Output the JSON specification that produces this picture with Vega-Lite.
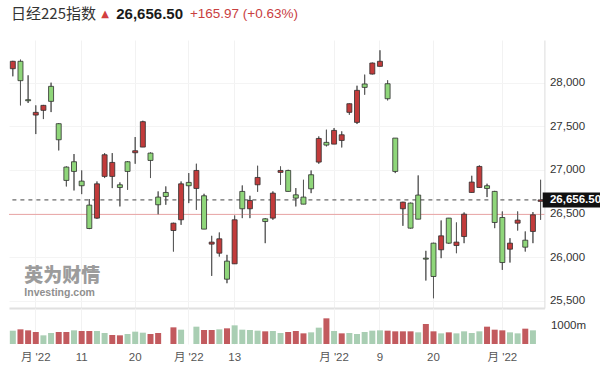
{
  "$schema": "https://vega.github.io/schema/vega-lite/v6.json",
  "padding": {"left": 8, "top": 4, "right": 0, "bottom": 0},
  "background": "white",
  "config": {"view": {"stroke": null}, "font": "Liberation Sans"},
  "datasets": {
    "k": [
      {"d": "2022-03-29", "o": 28160, "h": 28250, "l": 28073, "c": 28245, "v": 700, "vc": "g"},
      {"d": "2022-03-30", "o": 28245, "h": 28264, "l": 27740, "c": 28023, "v": 772, "vc": "r"},
      {"d": "2022-03-31", "o": 27805, "h": 28084, "l": 27767, "c": 27793, "v": 719, "vc": "r"},
      {"d": "2022-04-01", "o": 27629, "h": 27740, "l": 27411, "c": 27660, "v": 632, "vc": "r"},
      {"d": "2022-04-04", "o": 27683, "h": 27745, "l": 27583, "c": 27740, "v": 456, "vc": "g"},
      {"d": "2022-04-05", "o": 27958, "h": 28000, "l": 27663, "c": 27786, "v": 579, "vc": "g"},
      {"d": "2022-04-06", "o": 27530, "h": 27535, "l": 27224, "c": 27346, "v": 632, "vc": "r"},
      {"d": "2022-04-07", "o": 27033, "h": 27040, "l": 26811, "c": 26880, "v": 632, "vc": "r"},
      {"d": "2022-04-08", "o": 27094, "h": 27182, "l": 26765, "c": 26983, "v": 719, "vc": "g"},
      {"d": "2022-04-11", "o": 26872, "h": 26994, "l": 26723, "c": 26819, "v": 684, "vc": "r"},
      {"d": "2022-04-12", "o": 26597, "h": 26666, "l": 26322, "c": 26329, "v": 684, "vc": "r"},
      {"d": "2022-04-13", "o": 26448, "h": 26868, "l": 26440, "c": 26841, "v": 684, "vc": "g"},
      {"d": "2022-04-14", "o": 26926, "h": 27193, "l": 26907, "c": 27174, "v": 579, "vc": "g"},
      {"d": "2022-04-15", "o": 26926, "h": 27193, "l": 26792, "c": 27086, "v": 474, "vc": "r"},
      {"d": "2022-04-18", "o": 26830, "h": 26857, "l": 26582, "c": 26799, "v": 456, "vc": "r"},
      {"d": "2022-04-19", "o": 27094, "h": 27100, "l": 26773, "c": 26983, "v": 526, "vc": "g"},
      {"d": "2022-04-20", "o": 27197, "h": 27377, "l": 27071, "c": 27220, "v": 649, "vc": "g"},
      {"d": "2022-04-21", "o": 27262, "h": 27564, "l": 27262, "c": 27553, "v": 596, "vc": "g"},
      {"d": "2022-04-22", "o": 27193, "h": 27200, "l": 26907, "c": 27109, "v": 526, "vc": "r"},
      {"d": "2022-04-25", "o": 26689, "h": 26754, "l": 26490, "c": 26601, "v": 579, "vc": "r"},
      {"d": "2022-04-26", "o": 26742, "h": 26811, "l": 26601, "c": 26696, "v": null, "vc": null},
      {"d": "2022-04-27", "o": 26306, "h": 26395, "l": 26065, "c": 26390, "v": 877, "vc": "r"},
      {"d": "2022-04-28", "o": 26429, "h": 26868, "l": 26371, "c": 26841, "v": 754, "vc": "g"},
      {"d": "2022-05-02", "o": 26857, "h": 26964, "l": 26620, "c": 26819, "v": null, "vc": null},
      {"d": "2022-05-06", "o": 26788, "h": 27071, "l": 26543, "c": 26994, "v": 912, "vc": "g"},
      {"d": "2022-05-09", "o": 26704, "h": 26727, "l": 26322, "c": 26322, "v": 737, "vc": "r"},
      {"d": "2022-05-10", "o": 26150, "h": 26245, "l": 25786, "c": 26173, "v": 737, "vc": "r"},
      {"d": "2022-05-11", "o": 26046, "h": 26283, "l": 26008, "c": 26211, "v": 772, "vc": "g"},
      {"d": "2022-05-12", "o": 25955, "h": 26027, "l": 25702, "c": 25748, "v": 825, "vc": "r"},
      {"d": "2022-05-13", "o": 25924, "h": 26478, "l": 25924, "c": 26429, "v": 982, "vc": "g"},
      {"d": "2022-05-16", "o": 26754, "h": 26822, "l": 26448, "c": 26555, "v": 754, "vc": "g"},
      {"d": "2022-05-17", "o": 26555, "h": 26704, "l": 26448, "c": 26650, "v": 737, "vc": "g"},
      {"d": "2022-05-18", "o": 26830, "h": 27048, "l": 26750, "c": 26914, "v": 702, "vc": "g"},
      {"d": "2022-05-19", "o": 26440, "h": 26448, "l": 26161, "c": 26409, "v": 667, "vc": "r"},
      {"d": "2022-05-20", "o": 26448, "h": 26754, "l": 26429, "c": 26734, "v": 684, "vc": "g"},
      {"d": "2022-05-23", "o": 26972, "h": 27040, "l": 26830, "c": 26994, "v": 579, "vc": "g"},
      {"d": "2022-05-24", "o": 26994, "h": 27002, "l": 26754, "c": 26754, "v": 632, "vc": "r"},
      {"d": "2022-05-25", "o": 26715, "h": 26792, "l": 26582, "c": 26677, "v": 684, "vc": "r"},
      {"d": "2022-05-26", "o": 26689, "h": 26887, "l": 26608, "c": 26608, "v": 561, "vc": "r"},
      {"d": "2022-05-27", "o": 26945, "h": 26994, "l": 26734, "c": 26784, "v": 614, "vc": "g"},
      {"d": "2022-05-30", "o": 27090, "h": 27384, "l": 27071, "c": 27361, "v": 860, "vc": "g"},
      {"d": "2022-05-31", "o": 27316, "h": 27461, "l": 27270, "c": 27285, "v": 1351, "vc": "r"},
      {"d": "2022-06-01", "o": 27296, "h": 27480, "l": 27296, "c": 27453, "v": 684, "vc": "g"},
      {"d": "2022-06-02", "o": 27338, "h": 27442, "l": 27258, "c": 27403, "v": 561, "vc": "r"},
      {"d": "2022-06-03", "o": 27660, "h": 27760, "l": 27633, "c": 27759, "v": 579, "vc": "g"},
      {"d": "2022-06-06", "o": 27545, "h": 27965, "l": 27526, "c": 27912, "v": 526, "vc": "g"},
      {"d": "2022-06-07", "o": 27985, "h": 28092, "l": 27862, "c": 27946, "v": 632, "vc": "g"},
      {"d": "2022-06-08", "o": 28099, "h": 28230, "l": 28095, "c": 28225, "v": 702, "vc": "g"},
      {"d": "2022-06-09", "o": 28187, "h": 28371, "l": 28187, "c": 28245, "v": 719, "vc": "g"},
      {"d": "2022-06-10", "o": 27988, "h": 28027, "l": 27797, "c": 27816, "v": 702, "vc": "r"},
      {"d": "2022-06-13", "o": 27365, "h": 27365, "l": 26964, "c": 26983, "v": 667, "vc": "r"},
      {"d": "2022-06-14", "o": 26555, "h": 26635, "l": 26360, "c": 26631, "v": 667, "vc": "r"},
      {"d": "2022-06-15", "o": 26620, "h": 26625, "l": 26330, "c": 26333, "v": 667, "vc": "r"},
      {"d": "2022-06-16", "o": 26712, "h": 26937, "l": 26436, "c": 26436, "v": 614, "vc": "g"},
      {"d": "2022-06-17", "o": 25989, "h": 26073, "l": 25733, "c": 25978, "v": 1053, "vc": "r"},
      {"d": "2022-06-20", "o": 26161, "h": 26165, "l": 25530, "c": 25779, "v": 667, "vc": "r"},
      {"d": "2022-06-21", "o": 26085, "h": 26421, "l": 25989, "c": 26245, "v": 561, "vc": "g"},
      {"d": "2022-06-22", "o": 26448, "h": 26450, "l": 26154, "c": 26161, "v": 614, "vc": "r"},
      {"d": "2022-06-23", "o": 26134, "h": 26398, "l": 26046, "c": 26173, "v": 561, "vc": "g"},
      {"d": "2022-06-24", "o": 26237, "h": 26513, "l": 26161, "c": 26493, "v": 667, "vc": "g"},
      {"d": "2022-06-27", "o": 26742, "h": 26933, "l": 26742, "c": 26861, "v": 579, "vc": "g"},
      {"d": "2022-06-28", "o": 26799, "h": 27052, "l": 26799, "c": 27040, "v": 667, "vc": "g"},
      {"d": "2022-06-29", "o": 26819, "h": 26842, "l": 26689, "c": 26788, "v": 912, "vc": "r"},
      {"d": "2022-06-30", "o": 26754, "h": 26760, "l": 26333, "c": 26398, "v": 754, "vc": "r"},
      {"d": "2022-07-01", "o": 26455, "h": 26524, "l": 25855, "c": 25939, "v": 719, "vc": "r"},
      {"d": "2022-07-04", "o": 26092, "h": 26218, "l": 25939, "c": 26161, "v": 614, "vc": "g"},
      {"d": "2022-07-05", "o": 26390, "h": 26524, "l": 26306, "c": 26425, "v": 561, "vc": "g"},
      {"d": "2022-07-06", "o": 26195, "h": 26295, "l": 26065, "c": 26115, "v": 807, "vc": "r"},
      {"d": "2022-07-07", "o": 26295, "h": 26517, "l": 26161, "c": 26486, "v": 719, "vc": "g"},
      {"d": "2022-07-08", "o": 26640, "h": 26887, "l": 26429, "c": 26656.5, "v": null, "vc": null}
    ]
  },
  "spacing": 16,
  "vconcat": [
    {
      "spacing": 0,
      "bounds": "flush",
      "hconcat": [
        {
          "width": 100, "height": 20,
          "layer": [
            {"data": {"values": [{"t": "日经225指数"}]},
             "mark": {"type": "text", "font": "Noto Sans CJK SC", "fontSize": 15, "color": "#333333", "align": "right", "baseline": "middle", "dx": -13},
             "encoding": {"text": {"field": "t"}, "x": {"value": "width"}}},
            {"data": {"values": [{"t": "▲"}]},
             "mark": {"type": "text", "font": "DejaVu Sans", "fontSize": 10, "color": "#d23f3f", "align": "right", "baseline": "middle"},
             "encoding": {"text": {"field": "t"}, "x": {"value": "width"}}}
          ]
        },
        {"data": {"values": [{"t": "26,656.50"}]}, "width": 74, "height": 20,
         "mark": {"type": "text", "fontSize": 15, "fontWeight": "bold", "color": "#1a1a1a", "align": "right", "baseline": "middle"},
         "encoding": {"text": {"field": "t"}, "x": {"value": "width"}}},
        {"data": {"values": [{"t": "+165.97 (+0.63%)"}]}, "width": 115, "height": 20,
         "mark": {"type": "text", "fontSize": 13.5, "color": "#c9403f", "align": "right", "baseline": "middle"},
         "encoding": {"text": {"field": "t"}, "x": {"value": "width"}}}
      ]
    },
    {
      "spacing": 0,
      "resolve": {"scale": {"x": "shared"}},
      "vconcat": [
        {
          "width": 535.4,
          "height": 268,
          "layer": [
            {
              "data": {"name": "k"},
              "mark": {"type": "rule", "color": "#5a5a5a", "strokeWidth": 1},
              "encoding": {
                "x": {
                  "field": "d", "type": "ordinal",
                  "scale": {"paddingInner": 0, "paddingOuter": 0},
                  "axis": {
                    "values": ["2022-04-01", "2022-04-11", "2022-04-20", "2022-05-02", "2022-05-13", "2022-06-01", "2022-06-09", "2022-06-20", "2022-07-01"],
                    "labels": false, "ticks": false, "title": null,
                    "domain": true, "domainColor": "#e0e0e0", "domainWidth": 2,
                    "grid": true, "gridColor": "#f2f2f2", "bandPosition": 0.5
                  }
                },
                "y": {
                  "field": "l", "type": "quantitative", "title": null,
                  "scale": {"domain": [25418, 28489], "zero": false, "nice": false},
                  "axis": {
                    "orient": "right", "values": [25500, 26000, 26500, 27000, 27500, 28000],
                    "labelExpr": "format(datum.value, ',')", "ticks": false, "title": null,
                    "domain": true, "domainColor": "#dcdcdc",
                    "grid": true, "gridColor": "#f4f4f4",
                    "labelPadding": 5, "labelFontSize": 11.5, "labelColor": "#333333"
                  }
                },
                "y2": {"field": "h"}
              }
            },
            {
              "data": {"values": [{"t": "英为财情"}]},
              "mark": {"type": "text", "font": "Noto Sans CJK SC", "fontWeight": 900, "fontSize": 19, "color": "#9c9c9c", "align": "left", "baseline": "middle"},
              "encoding": {
                "text": {"field": "t"},
                "x": {"datum": "2022-03-31", "type": "ordinal", "bandPosition": 0},
                "y": {"datum": 25785, "type": "quantitative", "title": null}
              }
            },
            {
              "data": {"values": [{"t": "Investing.com"}]},
              "mark": {"type": "text", "fontWeight": "bold", "fontSize": 10.5, "color": "#8f8f8f", "align": "left", "baseline": "middle"},
              "encoding": {
                "text": {"field": "t"},
                "x": {"datum": "2022-03-31", "type": "ordinal", "bandPosition": 0},
                "y": {"datum": 25590, "type": "quantitative", "title": null}
              }
            },
            {
              "data": {"values": [{}]},
              "mark": {"type": "rule", "color": "#e8a4a4", "strokeWidth": 1},
              "encoding": {"y": {"datum": 26490.53, "type": "quantitative", "title": null}}
            },
            {
              "data": {"values": [{}]},
              "mark": {"type": "rule", "color": "#444444", "strokeWidth": 1, "strokeDash": [4, 4]},
              "encoding": {"y": {"datum": 26656.5, "type": "quantitative", "title": null}}
            },
            {
              "data": {"name": "k"},
              "mark": {"type": "rule", "color": "#5a5a5a", "strokeWidth": 1},
              "encoding": {
                "x": {"field": "d", "type": "ordinal"},
                "y": {"field": "l", "type": "quantitative", "title": null},
                "y2": {"field": "h"}
              }
            },
            {
              "data": {"name": "k"},
              "mark": {"type": "bar", "size": 5, "stroke": "#2e2e2e", "strokeWidth": 0.8},
              "encoding": {
                "x": {"field": "d", "type": "ordinal"},
                "y": {"field": "o", "type": "quantitative", "title": null},
                "y2": {"field": "c"},
                "fill": {
                  "condition": {"test": "datum.c >= datum.o", "value": "#c23b3b"},
                  "value": "#8fd67a"
                }
              }
            },
            {
              "data": {"values": [{}]},
              "mark": {"type": "rect", "color": "#111111", "xOffset": -1.7, "x2Offset": 56.6, "yOffset": -7.5, "y2Offset": 7.5},
              "encoding": {
                "x": {"value": "width"},
                "x2": {"value": "width"},
                "y": {"datum": 26656.5, "type": "quantitative", "title": null},
                "y2": {"datum": 26656.5}
              }
            },
            {
              "data": {"values": [{"t": "26,656.50"}]},
              "mark": {"type": "text", "color": "white", "fontWeight": "bold", "fontSize": 11.5, "align": "left", "baseline": "middle", "dx": 5.5},
              "encoding": {
                "text": {"field": "t"},
                "x": {"value": "width"},
                "y": {"datum": 26656.5, "type": "quantitative", "title": null}
              }
            }
          ]
        },
        {
          "data": {"name": "k"},
          "width": 535.4,
          "height": 36,
          "mark": {"type": "bar", "size": 6},
          "encoding": {
            "x": {
              "field": "d", "type": "ordinal",
              "scale": {"paddingInner": 0, "paddingOuter": 0},
              "axis": {
                "values": ["2022-04-01", "2022-04-11", "2022-04-20", "2022-05-02", "2022-05-13", "2022-06-01", "2022-06-09", "2022-06-20", "2022-07-01"],
                "labelExpr": "indexof(['2022-04-01','2022-05-02','2022-06-01','2022-07-01'], datum.value) >= 0 ? \"月 '22\" : '' + toNumber(substring(datum.value, 8, 10))",
                "labelAngle": 0, "ticks": false, "domain": false, "title": null,
                "grid": true, "gridColor": "#f2f2f2", "bandPosition": 0.5,
                "labelFont": "Liberation Sans, Noto Sans CJK SC",
                "labelFontSize": 11.5, "labelColor": "#555555", "labelPadding": 7
              }
            },
            "y": {
              "field": "v", "type": "quantitative", "title": null,
              "scale": {"domain": [0, 1895], "nice": false},
              "axis": {
                "orient": "right", "values": [1000], "labelExpr": "datum.value + 'm'",
                "ticks": false, "domain": false, "grid": false, "title": null,
                "labelPadding": 6, "labelFontSize": 11.5, "labelColor": "#333333"
              }
            },
            "color": {
              "field": "vc", "type": "nominal",
              "scale": {"domain": ["r", "g"], "range": ["#c25a5e", "#a9ceb3"]},
              "legend": null
            }
          }
        }
      ]
    }
  ]
}
